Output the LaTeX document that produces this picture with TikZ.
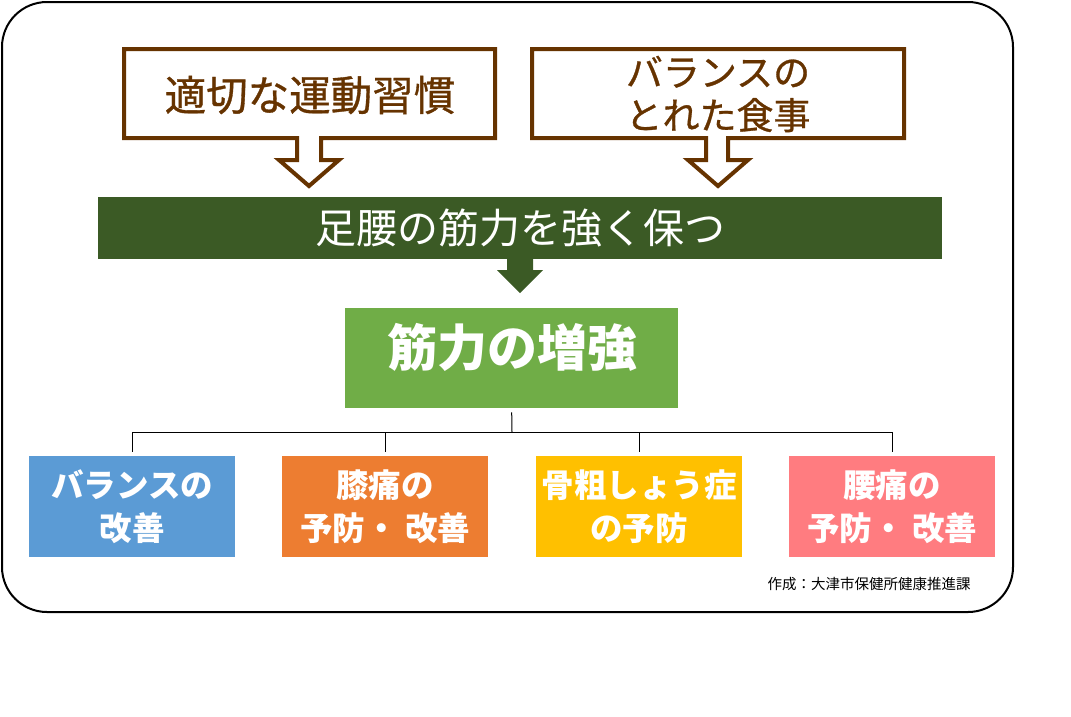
\documentclass[tikz,border=0pt]{standalone}
\usepackage{fontspec}
\newfontfamily\jp{Noto Sans CJK JP}
\newfontfamily\jpmed[FakeBold=0.8]{Noto Sans CJK JP}
\definecolor{brn}{HTML}{663300}
\definecolor{dgreen}{HTML}{3B5A25}
\definecolor{lgreen}{HTML}{70AD47}
\definecolor{cblue}{HTML}{5B9BD5}
\definecolor{corange}{HTML}{ED7D31}
\definecolor{cyellow}{HTML}{FFC000}
\definecolor{cpink}{HTML}{FF7C80}
\tikzset{
  callout/.style={draw=brn, line width=4pt, fill=white, line join=miter},
  toptext/.style={text=brn, font=\jpmed\fontsize{41.5}{43}\selectfont, align=center, inner sep=0pt},
  leaf/.style={minimum width=206pt, minimum height=101pt, inner sep=0pt, text=white, align=center,
    font=\jp\bfseries\fontsize{32.5}{43}\selectfont},
  tree/.style={draw=black, line width=1pt}
}
\begin{document}
\begin{tikzpicture}[x=1pt,y=-1pt]
\useasboundingbox (0,0) rectangle (1071,716);
% outer frame
\draw[line width=2pt, rounded corners=45pt] (2,2) rectangle (1013,612);
% callout 1
\draw[callout] (124,49) -- (495,49) -- (495,138) -- (321,138) -- (321,160) -- (339,160) -- (309,186) -- (279,160) -- (297,160) -- (297,138) -- (124,138) -- cycle;
\node[toptext] (t1) at (310,95) {適切な運動習慣};
% callout 2
\draw[callout] (532,49) -- (904,49) -- (904,138) -- (728,138) -- (728,160) -- (748,160) -- (718,186) -- (688,160) -- (706,160) -- (706,138) -- (532,138) -- cycle;
\node[toptext, font=\jpmed\fontsize{37}{43}\selectfont] (t2) at (718,94) {バランスの\\とれた食事};
% banner
\node[fill=dgreen, minimum width=844pt, minimum height=62pt, inner sep=0pt, anchor=north west,
  text=white, font=\jp\fontsize{41}{43}\selectfont] (band) at (98,197) {足腰の筋力を強く保つ};
\fill[dgreen] (507,258) -- (533,258) -- (533,270) -- (543,270) -- (520,293) -- (497,270) -- (507,270) -- cycle;
% main box
\node[fill=lgreen, minimum width=333pt, minimum height=100pt, inner sep=0pt, anchor=north west] (main) at (345,308) {};
\node[text=white, font=\jp\bfseries\fontsize{50}{52}\selectfont, inner sep=0pt] (mt) at (512,347) {筋力の増強};
% leaves
\node[leaf, fill=cblue, anchor=north west] (l1) at (29,456) {バランスの\\改善};
\node[leaf, fill=corange, anchor=north west] (l2) at (282,456) {膝痛の\\予防・ 改善};
\node[leaf, fill=cyellow, anchor=north west] (l3) at (536,456) {骨粗しょう症\\の予防};
\node[leaf, fill=cpink, anchor=north west] (l4) at (789,456) {腰痛の\\予防・ 改善};
% tree
\coordinate (hub) at (512,432);
\draw[tree] ([yshift=-4pt]main.south) -- (hub);
\draw[tree] (l1.north |- hub) -- (l4.north |- hub);
\foreach \n in {l1,l2,l3,l4}{
  \draw[tree] (\n.north |- hub) -- ([yshift=4pt]\n.north);
}
% credit
\node[font=\jp\fontsize{14.5}{15}\selectfont, inner sep=0pt] (cr) at (869,584) {作成：大津市保健所健康推進課};
\end{tikzpicture}
\end{document}
